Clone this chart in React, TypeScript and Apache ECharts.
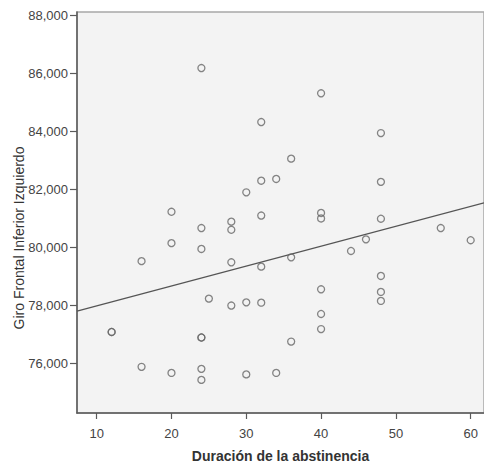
import React, { useEffect, useRef } from "react";
import * as echarts from "echarts";

// Duración de la abstinencia (x) and Giro Frontal Inferior Izquierdo (y, thousands)
const duracion = [
  12, 12, 16, 16, 20, 20, 20, 24, 24, 24, 24, 24, 24, 24, 25, 28, 28, 28, 28,
  30, 30, 30, 32, 32, 32, 32, 32, 34, 34, 36, 36, 36, 40, 40, 40, 40, 40, 40,
  44, 46, 48, 48, 48, 48, 48, 48, 56, 60,
];
const giro = [
  77.09, 77.09, 79.53, 75.89, 81.23, 80.15, 75.68, 86.18, 80.67, 79.95, 76.9,
  76.9, 75.82, 75.44, 78.24, 80.89, 80.61, 79.49, 78.0, 81.9, 78.11, 75.63,
  84.32, 82.3, 81.1, 79.34, 78.1, 82.36, 75.68, 83.06, 79.66, 76.76, 85.31,
  81.19, 81.0, 78.56, 77.71, 77.19, 79.88, 80.28, 83.94, 82.26, 80.99, 79.02,
  78.47, 78.16, 80.67, 80.25,
];
const xTicks = [10, 20, 30, 40, 50, 60];
const yTicks = [76, 78, 80, 82, 84, 86, 88];

const X_MIN = 7.37;
const X_MAX = 61.78;
const Y_MIN = 74.3;
const Y_MAX = 88.11;

function linearFit(xs: number[], ys: number[]) {
  const n = xs.length;
  const mx = xs.reduce((a, b) => a + b, 0) / n;
  const my = ys.reduce((a, b) => a + b, 0) / n;
  let sxy = 0;
  let sxx = 0;
  for (let i = 0; i < n; i++) {
    sxy += (xs[i] - mx) * (ys[i] - my);
    sxx += (xs[i] - mx) * (xs[i] - mx);
  }
  const slope = sxy / sxx;
  return { slope, intercept: my - slope * mx };
}

const fmtY = (v: number) => v.toFixed(3).replace(".", ",");

export default function App() {
  const ref = useRef<HTMLDivElement>(null);
  useEffect(() => {
    if (!ref.current) return;
    const chart = echarts.init(ref.current, undefined, { renderer: "svg" });
    const fit = linearFit(duracion, giro);
    const points = duracion.map((x, i) => [x, giro[i]]);
    const fitLine = [X_MIN, X_MAX].map((x) => [x, fit.intercept + fit.slope * x]);
    const textColor = "#444";
    const font = "'Liberation Sans', Arial, sans-serif";
    chart.setOption({
      animation: false,
      backgroundColor: "#ffffff",
      textStyle: { fontFamily: font },
      grid: {
        left: 77,
        top: 12,
        right: 0,
        bottom: 52,
        show: true,
        backgroundColor: "#f3f3f3",
        borderColor: "#a8a8a8",
        borderWidth: 1.5,
      },
      xAxis: {
        type: "value",
        min: X_MIN,
        max: X_MAX,
        name: "Duración de la abstinencia",
        nameLocation: "middle",
        nameGap: 36,
        nameTextStyle: {
          fontSize: 14,
          fontWeight: "bold",
          color: "#333",
          fontFamily: font,
        },
        splitLine: { show: false },
        axisLine: { show: true, onZero: false, lineStyle: { color: "#5a5a5a", width: 1.5 } },
        axisTick: {
          show: true,
          length: 6,
          customValues: xTicks,
          lineStyle: { color: "#5a5a5a", width: 1.2 },
        },
        axisLabel: {
          customValues: xTicks,
          margin: 14,
          fontSize: 13,
          color: textColor,
          fontFamily: font,
        },
      },
      yAxis: {
        type: "value",
        min: Y_MIN,
        max: Y_MAX,
        splitLine: { show: false },
        axisLine: { show: true, onZero: false, lineStyle: { color: "#5a5a5a", width: 1.5 } },
        axisTick: {
          show: true,
          length: 7,
          customValues: yTicks,
          lineStyle: { color: "#5a5a5a", width: 1.2 },
        },
        axisLabel: {
          customValues: yTicks,
          margin: 9,
          fontSize: 13,
          color: textColor,
          fontFamily: font,
          formatter: (v: number) => fmtY(v),
        },
      },
      graphic: [
        {
          type: "text",
          x: 19,
          y: 238,
          rotation: Math.PI / 2,
          style: {
            text: "Giro Frontal Inferior Izquierdo",
            fontSize: 14,
            fontFamily: font,
            fill: "#333",
            textAlign: "center",
            textVerticalAlign: "middle",
          },
        },
      ],
      series: [
        {
          type: "scatter",
          data: points,
          symbol: "circle",
          symbolSize: 7,
          itemStyle: { color: "rgba(0,0,0,0)", borderColor: "#666", borderWidth: 1.3 },
          z: 3,
        },
        {
          type: "line",
          data: fitLine,
          symbol: "none",
          lineStyle: { color: "#555", width: 1.3 },
          z: 2,
        },
      ],
    });
    return () => chart.dispose();
  }, []);
  return (
    <div
      ref={ref}
      style={{ position: "absolute", left: 0, top: 0, width: 484, height: 468 }}
    />
  );
}
